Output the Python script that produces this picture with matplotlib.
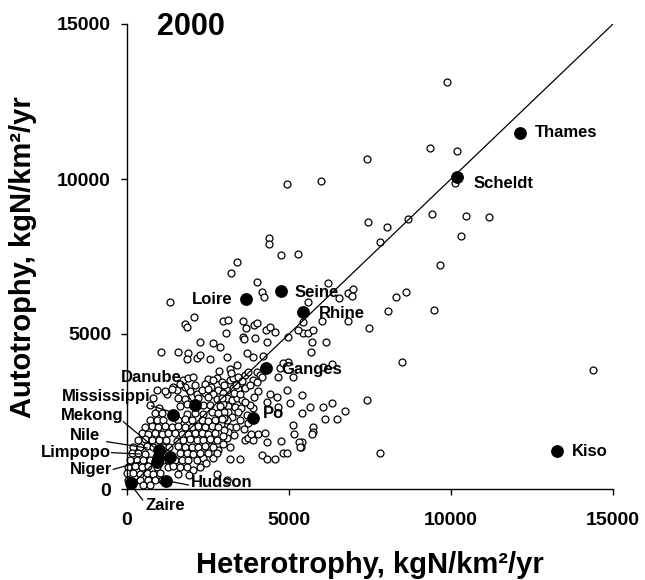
import numpy as np
import matplotlib
matplotlib.use('Agg')
import matplotlib.pyplot as plt

plt.rcParams['font.family'] = ['Liberation Sans', 'DejaVu Sans']
plt.rcParams['font.weight'] = 'bold'

# all basins, year 2000 (kgN/km2/yr)
# outer / sparse basins
het_sparse = [9885, 9360, 10185, 7395, 5975, 4930, 10130, 7430, 8025, 8670, 9405, 10450, 11170, 7815,
              10315, 9660, 4370, 4370, 4765, 5285, 3385, 3220, 6210, 6830, 6985, 6935, 8310, 8610,
              6540, 8045, 9465, 7460, 6810, 6010, 5420, 5440, 5595, 5750, 5720, 6130, 5680, 8475,
              6335, 6060, 14390, 5390, 7395, 5645, 6040, 6335, 6730, 6110, 6470, 5390, 5750, 5750,
              5720, 5390, 5370, 7815, 4000, 4175, 4240, 5575, 5290, 4980, 4980, 4670, 5135]
aut_sparse = [13140, 11010, 10905, 10635, 9945, 9840, 9880, 8600, 8440, 8710, 8880, 8805, 8775, 7960,
              8160, 7235, 8095, 7895, 7550, 7580, 7335, 6960, 6655, 6335, 6460, 6235, 6205, 6365,
              6170, 5750, 5785, 5205, 5430, 5430, 5385, 5045, 5025, 5130, 4750, 4750, 4410, 4105,
              4030, 3945, 3830, 3030, 2870, 2655, 2655, 2765, 2515, 2250, 2250, 2440, 2010, 1850,
              1765, 1505, 1365, 1150, 6690, 6345, 6205, 6040, 5130, 4915, 4105, 3625, 3625]

# middle band
het_mid = [1327, 2077, 1790, 1842, 2953, 3126, 3590, 3672, 3920, 4025, 4290, 4567, 3046, 3590,
           3620, 3950, 4310, 2253, 2665, 2870, 1049, 1563, 1872, 1842, 2150, 2253, 2561, 3074,
           3693, 3898, 4206, 2850, 3179, 3385, 2510, 2767, 2921, 997, 1224, 1737, 1892, 2046,
           1430, 1533, 3179, 3280, 3487, 3642, 3720, 3898, 4002, 4105, 4722, 4824, 4947, 5030,
           5133, 3898, 4413, 4620, 4669, 4310, 3642, 3743, 3898, 4052, 4259, 4310, 4753, 4824,
           4157, 4310, 4567, 3179, 3487, 2767, 3077, 4928,
           3077, 3280, 3435, 4052, 3077, 3231, 3385, 3540, 3929, 3117, 3333, 3518, 3117, 3425,
           3240, 3487, 3725, 3077, 3179, 3126, 5154, 5308, 5339, 3827, 3077, 3179, 4413, 3210,
           3435, 4157, 4002, 2665, 2150, 2355,
           2400, 2600, 2800, 2950, 2650, 2400, 2150, 1950, 2100, 1800, 1650, 3300, 3500, 3650,
           3800, 3550, 3350, 3000, 2950, 3000, 2980, 2900, 3000, 2950, 3300, 3350, 3600, 3700,
           3800, 3650, 2600, 2800, 2950, 2650, 2450, 2250, 2050, 1900, 2500]
aut_mid = [6023, 5558, 5313, 5236, 5420, 5452, 5420, 5184, 5290, 5345, 5129, 5055, 5023, 4913,
           4829, 4861, 4752, 4752, 4700, 4571, 4409, 4429, 4378, 4184, 4216, 4323, 4184, 4248,
           4397, 4248, 4291, 3817, 3861, 4000, 3540, 3592, 3460, 2603, 3080, 3516, 3571, 3624,
           3300, 3194, 3516, 3571, 3410, 3678, 3760, 3516, 3784, 3678, 3894, 4055, 3194, 2765,
           2065, 2603, 3065, 2978, 2655, 2816, 1581, 1636, 1581, 1774, 1816, 1526, 1558, 1161,
           1097, 968, 968, 968, 968, 474, 290, 1150,
           3194, 3248, 3226, 3171, 2926, 2871, 2926, 2871, 2958, 2678, 2645, 2613, 2484, 2484,
           2323, 2226, 2119, 2226, 2010, 1848, 1765, 1526, 1364, 1765, 1636, 1364, 5236, 3732,
           3624, 3624, 3463, 3516, 935, 1000,
           3400, 3300, 3200, 3100, 3050, 3100, 3050, 3150, 3350, 3300, 3400, 3100, 3050, 3250,
           3350, 3500, 3350, 3350, 2750, 2500, 2300, 2100, 1900, 1700, 1750, 2000, 1950, 2400,
           2700, 2800, 1400, 1250, 1450, 1000, 850, 700, 600, 450, 1250]

# dense core near the origin
het_core = [916, 1173, 1378, 2304, 2510,
            812, 1584, 1790, 2200, 2510, 2767, 2921,
            710, 1635, 1842, 2355, 2561, 2870,
            864, 1070, 1842, 2098, 2355, 2612, 2818,
            710, 916, 1121, 1584, 1790, 1996, 2304, 2510, 2716, 2921,
            555, 762, 967, 1173, 1378, 1584, 1790, 1996, 2200, 2407, 2612, 2818,
            453, 658, 864, 1070, 1275, 1481, 1687, 1893, 2098, 2304, 2510, 2716,
            350, 555, 762, 1000, 1200, 1533, 1738, 1944, 2150, 2355, 2561, 2767,
            196, 401, 607, 800, 1100, 1300, 1584, 1790, 1996, 2200, 2407, 2664,
            144, 350, 555, 1635, 1842, 2046, 2253, 2510, 2767,
            93, 298, 504, 710, 1100, 1250, 1481, 1687, 1893,
            41, 247, 453, 658, 916, 1250, 1430, 1635, 1842,
            10, 196, 401, 607, 812, 1018, 1584,
            30, 401, 658, 864, 1070,
            504, 710]
aut_core = [3194, 3170, 3210, 3190, 3230,
            2926, 2950, 2900, 2930, 2960, 2910, 2940,
            2710, 2690, 2730, 2700, 2720, 2680,
            2442, 2460, 2420, 2450, 2430, 2470, 2440,
            2226, 2240, 2210, 2230, 2250, 2220, 2240, 2200, 2230, 2250,
            2010, 2030, 1990, 2020, 2000, 2040, 2010, 1990, 2030, 2000, 2020, 1990,
            1797, 1780, 1810, 1790, 1800, 1820, 1790, 1780, 1810, 1800, 1790, 1820,
            1581, 1600, 1570, 1590, 1580, 1560, 1590, 1600, 1570, 1580, 1600, 1570,
            1366, 1350, 1380, 1360, 1370, 1350, 1380, 1360, 1370, 1350, 1380, 1360,
            1150, 1170, 1140, 1160, 1150, 1130, 1160, 1150, 1170,
            935, 950, 920, 940, 930, 950, 920, 940, 930,
            720, 740, 710, 730, 720, 710, 730, 720, 700,
            505, 520, 490, 510, 500, 520, 500,
            290, 300, 280, 290, 300,
            129, 140]

het = np.array(het_sparse + het_mid + het_core)
aut = np.array(aut_sparse + aut_mid + aut_core)

# named rivers
rivers = ['Thames', 'Scheldt', 'Loire', 'Seine', 'Rhine', 'Ganges', 'Po', 'Danube',
          'Mississippi', 'Mekong', 'Nile', 'Limpopo', 'Niger', 'Hudson', 'Zaire', 'Kiso']
riv_het = [12130, 10175, 3670, 4745, 5440, 4290, 3900, 2100, 1430, 990, 1330, 960, 930, 1205, 125, 13260]
riv_aut = [11485, 10075, 6130, 6395, 5720, 3895, 2300, 2700, 2385, 1260, 1030, 1000, 870, 260, 195, 1235]

# label placement: (x, y, ha, leader start, leader end)
label_pos = {
    'Thames': (12590, 11485, 'left', None, None),
    'Scheldt': (10690, 9860, 'left', None, None),
    'Loire': (3250, 6100, 'right', None, None),
    'Seine': (5185, 6345, 'left', None, None),
    'Rhine': (5925, 5667, 'left', None, None),
    'Ganges': (4774, 3861, 'left', None, None),
    'Po': (4207, 2442, 'left', None, None),
    'Kiso': (13722, 1204, 'left', None, None),
    'Danube': (1697, 3590, 'right', (1697, 3419), (1997, 2816)),
    'Mississippi': (740, 2978, 'right', (762, 2678), (1275, 2516)),
    'Mekong': (-123, 2387, 'right', (-114, 2171), (812, 1365)),
    'Nile': (-833, 1710, 'right', (-626, 1526), (617, 1323)),
    'Limpopo': (-494, 1184, 'right', (-473, 1172), (401, 1129)),
    'Niger': (-463, 635, 'right', (-422, 635), (401, 871)),
    'Hudson': (1975, 204, 'left', (1378, 236), (1892, 129)),
    'Zaire': (586, -538, 'left', (247, -32), (485, -355)),
}

fig = plt.figure(figsize=(6.45, 5.8), dpi=100)
ax = fig.add_axes([127/645, 1-489/580, 486/645, 465/580])

ax.plot(het, aut, 'o', ms=5.0, mfc='white', mec='black', mew=0.9, clip_on=False, zorder=2)
ax.plot([0, 15000], [0, 15000], color='black', lw=0.9, zorder=3)
ax.plot(riv_het, riv_aut, 'o', ms=8.2, color='black', clip_on=False, zorder=4)

for name in rivers:
    tx, ty, ha, p0, p1 = label_pos[name]
    ax.text(tx, ty, name, ha=ha, va='center', fontsize=12, fontweight='bold', zorder=3)
    if p0 is not None:
        ax.plot([p0[0], p1[0]], [p0[1], p1[1]], color='black', lw=0.9, clip_on=False, zorder=3)

ax.set_xlim(0, 15000)
ax.set_ylim(0, 15000)
ax.set_xticks([0, 5000, 10000, 15000])
ax.set_yticks([0, 5000, 10000, 15000])
ax.spines['top'].set_visible(False)
ax.spines['right'].set_visible(False)
ax.spines['left'].set_linewidth(1)
ax.spines['bottom'].set_linewidth(1)
ax.tick_params(axis='both', labelsize=14, length=4.5, width=1, direction='out')
ax.tick_params(axis='x', pad=12)
ax.tick_params(axis='y', pad=7)
for lab in ax.get_xticklabels() + ax.get_yticklabels():
    lab.set_fontweight('bold')

ax.text(0.062, 0.994, '2000', transform=ax.transAxes, fontsize=22, fontweight='bold',
        ha='left', va='center')
fig.text(370/645, 1-565/580, 'Heterotrophy, kgN/km²/yr', ha='center', va='center',
         fontsize=21, fontweight='bold')
fig.text(23/645, 1-257/580, 'Autotrophy, kgN/km²/yr', ha='center', va='center',
         rotation=90, fontsize=21, fontweight='bold')

fig.savefig('out.png', dpi=100)
